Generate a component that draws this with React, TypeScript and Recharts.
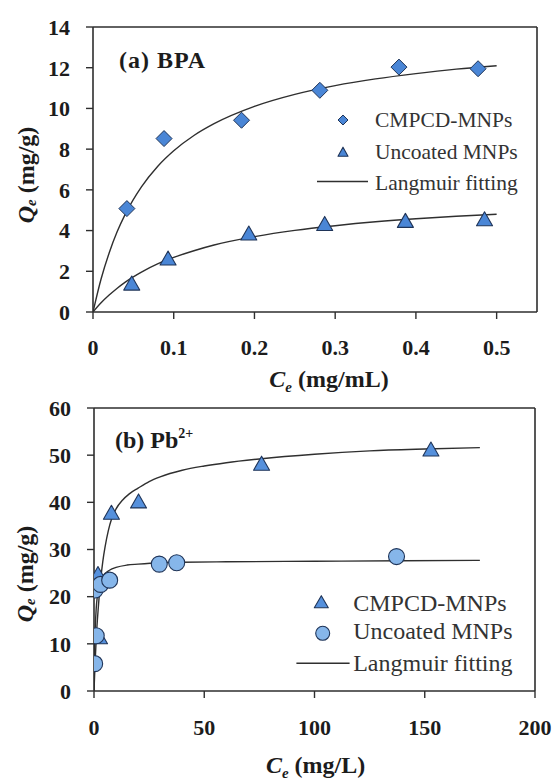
import React from 'react';
import { ComposedChart, Scatter, Line, XAxis, YAxis, ReferenceLine, Label, Legend } from 'recharts';

const SERIF = 'Liberation Serif, Tinos, DejaVu Serif, Times New Roman, serif';
const AXIS = '#2e2e2e';
const TEXT = '#1c1c1c';
const LEG = '#333333';
const FIT = '#2f2f2f';
const BLUE = '#4a86d6';
const BLUE_TRI = '#5590dc';
const BLUE_LIGHT = '#86b6ea';
const EDGE = '#1f3458';

// ---------- panel (a) BPA ----------
const bpaTicksX = [0, 0.1, 0.2, 0.3, 0.4, 0.5];
const bpaTicksY = [0, 2, 4, 6, 8, 10, 12, 14];
const bpaCmpcdC = [0.042, 0.088, 0.184, 0.281, 0.379, 0.477];
const bpaCmpcdQ = [5.08, 8.52, 9.42, 10.89, 12.03, 11.95];
const bpaUncoatedC = [0.048, 0.093, 0.193, 0.287, 0.387, 0.485];
const bpaUncoatedQ = [1.42, 2.65, 3.88, 4.35, 4.5, 4.58];
const bpaFitC = [0, 0.01, 0.02, 0.03, 0.04, 0.06, 0.08, 0.1, 0.125, 0.15, 0.2, 0.25, 0.3, 0.35, 0.4, 0.45, 0.5];
const bpaFitCmpcdQ = [0, 1.62, 2.9, 3.95, 4.81, 6.15, 7.15, 7.92, 8.67, 9.25, 10.1, 10.69, 11.12, 11.45, 11.71, 11.93, 12.1];
const bpaFitUncoatedQ = [0, 0.45, 0.83, 1.17, 1.47, 1.96, 2.36, 2.68, 3.01, 3.29, 3.7, 4.01, 4.24, 4.43, 4.58, 4.7, 4.8];

// ---------- panel (b) Pb2+ ----------
const pbTicksX = [0, 50, 100, 150, 200];
const pbTicksY = [0, 10, 20, 30, 40, 50, 60];
const pbCmpcdC = [2.5, 1.8, 7.9, 20.2, 76.0, 152.8];
const pbCmpcdQ = [11.5, 24.9, 37.9, 40.3, 48.3, 51.3];
const pbUncoatedC = [0.3, 1.0, 0.5, 3.0, 7.1, 29.6, 37.5, 137.2];
const pbUncoatedQ = [5.8, 11.7, 21.4, 22.6, 23.5, 26.9, 27.2, 28.5];
const pbFitCmpcdC = [0, 0.5, 1, 2, 3, 4, 5, 6.5, 8, 10, 13, 16, 20, 25, 30, 40, 50, 60, 75, 100, 125, 150, 175];
const pbFitCmpcdQ = [0, 6, 11, 18, 23.5, 27.5, 30.5, 34, 36.5, 38.6, 40.5, 41.8, 43, 44.4, 45.4, 46.8, 47.7, 48.4, 49.2, 50.2, 50.9, 51.3, 51.6];
const pbFitUncoatedC = [0, 0.25, 0.5, 1, 1.5, 2, 3, 5, 7, 10, 15, 20, 30, 40, 60, 100, 140, 175];
const pbFitUncoatedQ = [0, 8, 12.5, 17.5, 20, 21.5, 23.3, 24.9, 25.6, 26.2, 26.7, 26.9, 27.2, 27.3, 27.4, 27.5, 27.6, 27.7];

const pairs = (xs: number[], ys: number[]) => xs.map((x, i) => ({ x, y: ys[i] }));

const bpaCmpcd = pairs(bpaCmpcdC, bpaCmpcdQ);
const bpaUncoated = pairs(bpaUncoatedC, bpaUncoatedQ);
const bpaFitCmpcd = pairs(bpaFitC, bpaFitCmpcdQ);
const bpaFitUncoated = pairs(bpaFitC, bpaFitUncoatedQ);
const pbCmpcd = pairs(pbCmpcdC, pbCmpcdQ);
const pbUncoated = pairs(pbUncoatedC, pbUncoatedQ);
const pbFitCmpcd = pairs(pbFitCmpcdC, pbFitCmpcdQ);
const pbFitUncoated = pairs(pbFitUncoatedC, pbFitUncoatedQ);

// ---------- marker shapes ----------
const diamond = (cx: number, cy: number, r: number) => (
  <polygon points={`${cx},${cy - r} ${cx + r},${cy} ${cx},${cy + r} ${cx - r},${cy}`} fill={BLUE} stroke={EDGE} strokeWidth={1} />
);
const triangle = (cx: number, cy: number, w: number, h: number, fill: string) => (
  <polygon points={`${cx},${cy - h / 2} ${cx + w / 2},${cy + h / 2} ${cx - w / 2},${cy + h / 2}`} fill={fill} stroke={EDGE} strokeWidth={1.1} strokeLinejoin="round" />
);
const circle = (cx: number, cy: number, r: number) => (
  <circle cx={cx} cy={cy} r={r} fill={BLUE_LIGHT} stroke={EDGE} strokeWidth={1.1} />
);

const DiamondShape = (p: any) => (p.cx == null ? null : diamond(p.cx, p.cy, 8));
const TriShapeA = (p: any) => (p.cx == null ? null : triangle(p.cx, p.cy, 16, 14, BLUE));
const TriShapeB = (p: any) => (p.cx == null ? null : triangle(p.cx, p.cy, 16, 14, BLUE_TRI));
const CircleShape = (p: any) => (p.cx == null ? null : circle(p.cx, p.cy, 8));

const tickStyle = { fill: TEXT, fontSize: 22, fontWeight: 700, style: { fontFamily: SERIF } };

const LegendA = () => (
  <svg width={240} height={100} style={{ display: 'block', overflow: 'visible' }}>
    {diamond(43, 20, 5)}
    {triangle(43, 51.7, 10, 9, BLUE)}
    <line x1={17} y1={81.5} x2={68} y2={81.5} stroke={FIT} strokeWidth={1.5} />
    <g style={{ fontFamily: SERIF }} fontSize={21.5} fill={LEG}>
      <text x={75} y={27}>CMPCD-MNPs</text>
      <text x={75} y={58.7}>Uncoated MNPs</text>
      <text x={75} y={90}>Langmuir fitting</text>
    </g>
  </svg>
);

const LegendB = () => (
  <svg width={260} height={110} style={{ display: 'block', overflow: 'visible' }}>
    {triangle(41.3, 31.7, 14, 12, BLUE_TRI)}
    {circle(42.7, 63.3, 7)}
    <line x1={16.4} y1={93.3} x2={69.6} y2={93.3} stroke={FIT} strokeWidth={1.5} />
    <g style={{ fontFamily: SERIF }} fontSize={24} fill={LEG}>
      <text x={73.2} y={41}>CMPCD-MNPs</text>
      <text x={73.2} y={69}>Uncoated MNPs</text>
      <text x={73.2} y={101}>Langmuir fitting</text>
    </g>
  </svg>
);

const yTitle = (cx: number, cy: number) => () => (
  <text transform={`translate(${cx},${cy}) rotate(-90)`} textAnchor="middle" dominantBaseline="central" style={{ fontFamily: SERIF }} fontWeight={700} fontSize={24} fill={TEXT}>
    <tspan fontStyle="italic">Q</tspan>
    <tspan fontStyle="italic" fontSize={15} dy={5}>e</tspan>
    <tspan dy={-5}> (mg/g)</tspan>
  </text>
);

const xTitle = (cx: number, baseline: number, unit: string) => () => (
  <text x={cx} y={baseline} textAnchor="middle" style={{ fontFamily: SERIF }} fontWeight={700} fontSize={24} fill={TEXT}>
    <tspan fontStyle="italic">C</tspan>
    <tspan fontStyle="italic" fontSize={15} dy={5}>e</tspan>
    <tspan dy={-5}>{` (${unit})`}</tspan>
  </text>
);

export default function App() {
  return (
    <div style={{ position: 'absolute', left: 0, top: 0, width: 556, height: 781, background: '#ffffff', fontFamily: SERIF }}>
      <div style={{ position: 'absolute', left: 0, top: 0 }}>
        <ComposedChart width={556} height={400} margin={{ top: 27, right: 19, left: 0, bottom: 0 }}>
          <XAxis type="number" dataKey="x" domain={[0, 0.55]} ticks={bpaTicksX} interval={0} allowDataOverflow
            height={88} tickSize={7} tickMargin={20} tick={tickStyle}
            axisLine={{ stroke: AXIS, strokeWidth: 1.6 }} tickLine={{ stroke: AXIS, strokeWidth: 1.4 }}>
            <Label content={xTitle(329, 387, 'mg/mL')} />
          </XAxis>
          <YAxis type="number" dataKey="y" domain={[0, 14]} ticks={bpaTicksY} interval={0} allowDataOverflow
            width={93} tickSize={7} tickMargin={16} tick={tickStyle}
            axisLine={{ stroke: AXIS, strokeWidth: 1.6 }} tickLine={{ stroke: AXIS, strokeWidth: 1.4 }}>
            <Label content={yTitle(26, 175)} />
          </YAxis>
          <ReferenceLine y={14} stroke={AXIS} strokeWidth={1.6} ifOverflow="visible" />
          <ReferenceLine x={0.55} stroke={AXIS} strokeWidth={1.6} ifOverflow="visible" />
          <Scatter name="CMPCD-MNPs" data={bpaCmpcd} dataKey="y" shape={DiamondShape} isAnimationActive={false} />
          <Scatter name="Uncoated MNPs" data={bpaUncoated} dataKey="y" shape={TriShapeA} isAnimationActive={false} />
          <Line name="Langmuir fitting" data={bpaFitCmpcd} dataKey="y" type="monotone" stroke={FIT} strokeWidth={1.4} dot={false} activeDot={false} isAnimationActive={false} />
          <Line name="Langmuir fitting 2" data={bpaFitUncoated} dataKey="y" type="monotone" stroke={FIT} strokeWidth={1.4} dot={false} activeDot={false} isAnimationActive={false} legendType="none" />
          <Legend layout="vertical" align="center" verticalAlign="middle" content={LegendA}
            wrapperStyle={{ left: 300, top: 100, width: 240, height: 100 }} />
          <text x={119} y={68} style={{ fontFamily: SERIF }} fontWeight={700} fontSize={24} fill={TEXT} letterSpacing={1}>(a) BPA</text>
        </ComposedChart>
      </div>
      <div style={{ position: 'absolute', left: 0, top: 390 }}>
        <ComposedChart width={556} height={391} margin={{ top: 18, right: 21, left: 0, bottom: 0 }}>
          <XAxis type="number" dataKey="x" domain={[0, 200]} ticks={pbTicksX} interval={0} allowDataOverflow
            height={90} tickSize={7} tickMargin={21} tick={tickStyle}
            axisLine={{ stroke: AXIS, strokeWidth: 1.6 }} tickLine={{ stroke: AXIS, strokeWidth: 1.4 }}>
            <Label content={xTitle(315.6, 383, 'mg/L')} />
          </XAxis>
          <YAxis type="number" dataKey="y" domain={[0, 60]} ticks={pbTicksY} interval={0} allowDataOverflow
            width={94} tickSize={7} tickMargin={16} tick={tickStyle}
            axisLine={{ stroke: AXIS, strokeWidth: 1.6 }} tickLine={{ stroke: AXIS, strokeWidth: 1.4 }}>
            <Label content={yTitle(25, 184)} />
          </YAxis>
          <ReferenceLine y={60} stroke={AXIS} strokeWidth={1.6} ifOverflow="visible" />
          <ReferenceLine x={200} stroke={AXIS} strokeWidth={1.6} ifOverflow="visible" />
          <Scatter name="CMPCD-MNPs" data={pbCmpcd} dataKey="y" shape={TriShapeB} isAnimationActive={false} />
          <Scatter name="Uncoated MNPs" data={pbUncoated} dataKey="y" shape={CircleShape} isAnimationActive={false} />
          <Line name="Langmuir fitting" data={pbFitCmpcd} dataKey="y" type="monotone" stroke={FIT} strokeWidth={1.4} dot={false} activeDot={false} isAnimationActive={false} />
          <Line name="Langmuir fitting 2" data={pbFitUncoated} dataKey="y" type="monotone" stroke={FIT} strokeWidth={1.4} dot={false} activeDot={false} isAnimationActive={false} legendType="none" />
          <Legend layout="vertical" align="center" verticalAlign="middle" content={LegendB}
            wrapperStyle={{ left: 280, top: 180, width: 260, height: 110 }} />
          <text x={115} y={58} style={{ fontFamily: SERIF }} fontWeight={700} fontSize={24} fill={TEXT}>
            (b) Pb<tspan fontSize={14} dy={-10}>2+</tspan>
          </text>
        </ComposedChart>
      </div>
    </div>
  );
}
